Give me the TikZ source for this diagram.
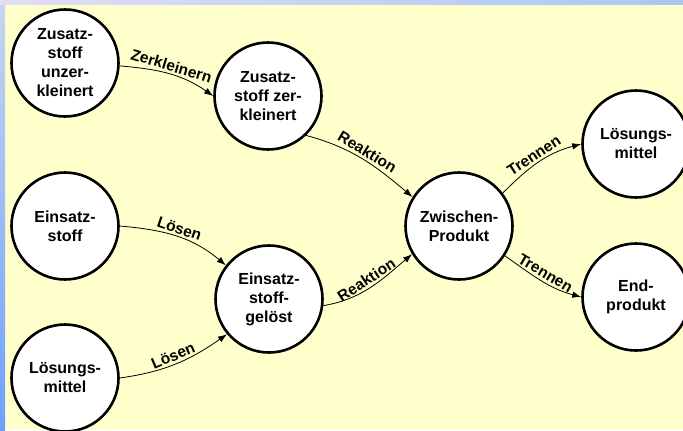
\documentclass[tikz,border=0pt]{standalone}
\usepackage{fontspec}
\setmainfont{Liberation Sans}
\usetikzlibrary{arrows.meta}
\definecolor{paper}{HTML}{FFFFCC}
\definecolor{edgeTop}{HTML}{C8D6F0}
\definecolor{edgeBottom}{HTML}{6EA0FF}
\definecolor{barLeft}{HTML}{E2DEF4}
\definecolor{barRight}{HTML}{A8C8F2}
\tikzset{
  state/.style={circle, draw=black, line width=2.6bp, fill=white,
    minimum size=107bp, inner sep=0pt, align=center,
    font=\bfseries\fontsize{16bp}{19bp}\selectfont},
  flow/.style={line width=0.8bp, -{Latex[length=9bp,width=6.5bp]}},
  lbl/.style={above, sloped, inner sep=2.5bp,
    font=\bfseries\fontsize{15.5bp}{18bp}\selectfont}
}
\begin{document}
\begin{tikzpicture}[x=1bp, y=-1bp]
  \useasboundingbox (0,0) rectangle (683,430);
  % page background with coloured frame strips
  \fill[paper] (0,0) rectangle (683,430);
  \shade[top color=edgeTop, bottom color=edgeBottom] (0,0) rectangle (5,430);
  \shade[left color=barLeft, right color=barRight] (0,0) rectangle (683,4);

  % states
  \node[state] (zu)  at (65,63)   {Zusatz-\\stoff\\unzer-\\kleinert};
  \node[state] (zz)  at (268,96)  {Zusatz-\\stoff zer-\\kleinert};
  \node[state] (es)  at (65,226)  {Einsatz-\\stoff};
  \node[state] (lm)  at (65,378)  {Lösungs-\\mittel};
  \node[state] (eg)  at (269,299) {Einsatz-\\stoff-\\gelöst};
  \node[state] (zp)  at (459,226) {Zwischen-\\Produkt};
  \node[state] (lm2) at (636,144) {Lösungs-\\mittel};
  \node[state] (ep)  at (636,297) {End-\\produkt};

  % process steps
  \draw[flow] (zu.-3) to[out=-5, in=145] node[lbl] {Zerkleinern} (zz.west);
  \draw[flow] (zz.-46) to[out=-15, in=140] node[lbl] {Reaktion} (zp.148);
  \draw[flow] (es.east) to[out=-5, in=140] node[lbl] {Lösen} (eg.142);
  \draw[flow] (lm.east) to[out=8, in=215] node[lbl] {Lösen} (eg.220);
  \draw[flow] (eg.-7) to[out=10, in=220] node[lbl] {Reaktion} (zp.211);
  \draw[flow] (zp.37) to[out=45, in=195] node[lbl] {Trennen} (lm2.west);
  \draw[flow] (zp.-33) to[out=-35, in=165] node[lbl] {Trennen} (ep.west);
\end{tikzpicture}
\end{document}
